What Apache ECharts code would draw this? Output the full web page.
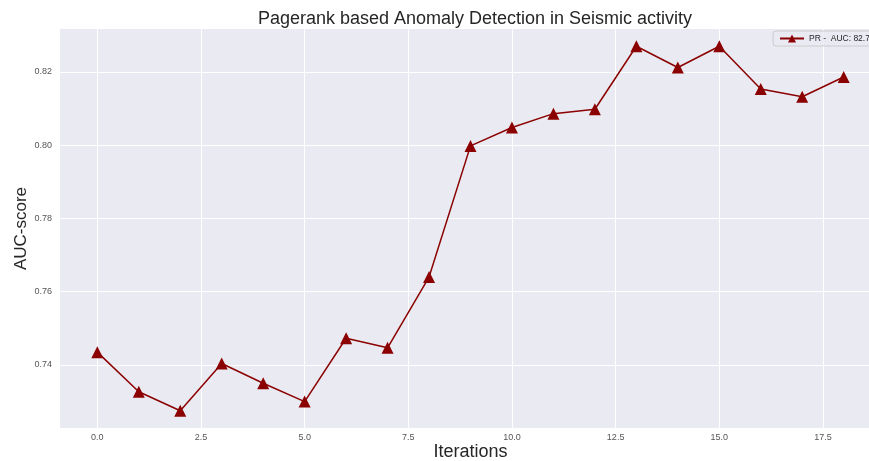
<!DOCTYPE html>
<html>
<head>
<meta charset="utf-8">
<script src="https://cdn.jsdelivr.net/npm/echarts@6/dist/echarts.min.js"></script>
<style>html,body{margin:0;padding:0;background:#fff;}#c{width:869px;height:461px;}</style>
</head>
<body>
<div id="c"></div>
<script>
const iterations = [0,1,2,3,4,5,6,7,8,9,10,11,12,13,14,15,16,17,18];
const aucScores = [0.7435,0.7327,0.7275,0.7404,0.7350,0.7300,0.7473,0.7447,0.7640,0.7998,0.8048,0.8086,0.8098,0.8270,0.8212,0.8270,0.8153,0.8132,0.8186];
const xTicks = [0,2.5,5,7.5,10,12.5,15,17.5];
const yTicks = [0.74,0.76,0.78,0.80,0.82];
const seriesName = 'PR -  AUC: 82.70%';

const chart = echarts.init(document.getElementById('c'));
chart.setOption({
  backgroundColor: '#ffffff',
  animation: false,
  title: {
    text: 'Pagerank based Anomaly Detection in Seismic activity',
    left: 470, textAlign: 'center', top: 5,
    textStyle: {fontFamily: 'Liberation Sans, Arial, sans-serif', fontSize: 18, fontWeight: 'normal', color: '#262626'}
  },
  legend: {
    left: 773, top: 31,
    data: [seriesName],
    itemWidth: 24, itemHeight: 10,
    padding: [3, 6],
    backgroundColor: 'rgba(234,234,242,0.8)',
    borderColor: '#cccccc', borderWidth: 1, borderRadius: 3,
    textStyle: {fontFamily: 'Liberation Sans, Arial, sans-serif', fontSize: 8.5, color: '#262626'}
  },
  grid: {
    left: 60, right: -12, top: 29, bottom: 33,
    containLabel: false, outerBoundsMode: 'none',
    show: true, backgroundColor: '#EAEAF2', borderWidth: 0
  },
  xAxis: {
    type: 'value', min: -0.9, max: 18.9,
    name: 'Iterations', nameLocation: 'middle', nameGap: 15, nameMoveOverlap: false,
    nameTextStyle: {fontFamily: 'Liberation Sans, Arial, sans-serif', fontSize: 18, color: '#262626'},
    axisLine: {show: false},
    axisTick: {show: false, customValues: xTicks},
    axisLabel: {customValues: xTicks, margin: 5, fontSize: 9, color: '#555555', fontFamily: 'Liberation Sans, Arial, sans-serif',
      formatter: v => v.toFixed(1)},
    splitLine: {show: true, lineStyle: {color: '#ffffff', width: 1}}
  },
  yAxis: {
    type: 'value', min: 0.7228, max: 0.8317,
    name: 'AUC-score', nameLocation: 'middle', nameGap: 30, nameRotate: 90, nameMoveOverlap: false,
    nameTextStyle: {fontFamily: 'Liberation Sans, Arial, sans-serif', fontSize: 17, color: '#262626'},
    axisLine: {show: false},
    axisTick: {show: false, customValues: yTicks},
    axisLabel: {customValues: yTicks, margin: 8, fontSize: 9, color: '#555555', fontFamily: 'Liberation Sans, Arial, sans-serif',
      formatter: v => v.toFixed(2)},
    splitLine: {show: true, lineStyle: {color: '#ffffff', width: 1}}
  },
  series: [{
    name: seriesName,
    type: 'line',
    data: iterations.map((x, i) => [x, aucScores[i]]),
    symbol: 'triangle', symbolSize: 12,
    itemStyle: {color: '#8B0000'},
    lineStyle: {color: '#8B0000', width: 1.5}
  }]
});
</script>
</body>
</html>
